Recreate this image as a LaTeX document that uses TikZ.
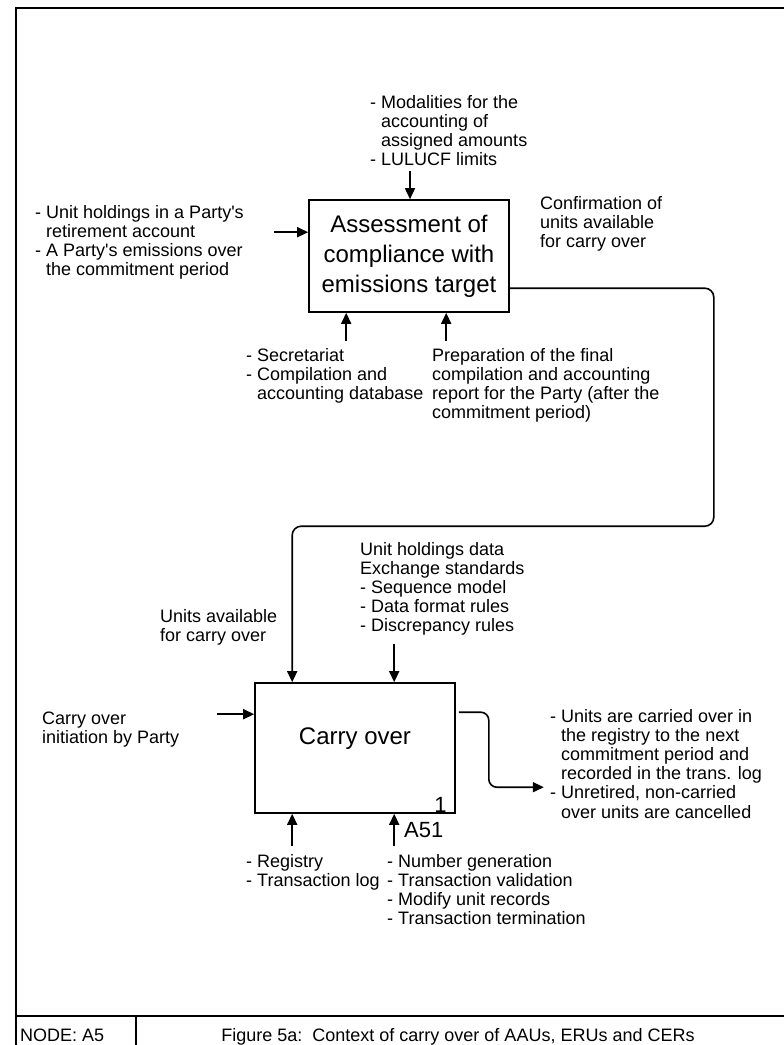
\documentclass[tikz,border=0pt]{standalone}
\usepackage{fontspec}
\setmainfont{Liberation Sans}
\usetikzlibrary{arrows.meta,calc}
\newcommand{\lns}[1]{\begin{tabular}[t]{@{}l@{}}#1\end{tabular}}
\newcommand{\ind}{\hphantom{-\ }}
\newcommand{\q}{\textquotesingle}
\begin{document}
\begin{tikzpicture}[x=1pt,y=-1pt,
  box/.style={draw,line width=1.6pt,minimum width=200pt,inner sep=0pt,align=center,
    font=\fontsize{24}{30}\selectfont},
  lbl/.style={anchor=base west,inner sep=0pt,font=\fontsize{18}{19.2}\selectfont},
  arr/.style={line width=1.6pt,-{Triangle[length=11pt,width=10pt]}},
  frameline/.style={line width=2.4pt}]
\useasboundingbox (0,0) rectangle (784,1045);

% sheet frame and footer
\draw[frameline] (790,8) -- (16,8) -- (16,1050);
\draw[frameline] (16,1016) -- (790,1016);
\draw[frameline] (136,1016) -- (136,1050);
\node[anchor=base west,inner sep=0pt,font=\fontsize{18}{20}\selectfont] (node) at (20,1041) {NODE: A5};
\node[anchor=base,inner sep=0pt,font=\fontsize{18}{20}\selectfont] (title) at (458,1041)
  {Figure 5a:\ \ Context of carry over of AAUs, ERUs and CERs};

% activity boxes
\node[box,minimum height=112pt] (A) at (409,256) {Assessment of\\compliance with\\emissions target};
\node[box,minimum height=130pt] (B) at (355,748) {};
\node[inner sep=0pt,font=\fontsize{24}{30}\selectfont] (Bt) at ([yshift=9pt]B.center) {Carry over};
\node[anchor=base east,inner sep=0pt,font=\fontsize{22}{24}\selectfont] (Bn) at ([xshift=-9pt,yshift=1pt]B.south east) {1};
\node[anchor=base west,inner sep=0pt,font=\fontsize{22}{24}\selectfont] (Bref) at (404,837) {A51};

% labels
\node[lbl] (mod) at (370,108) {\lns{- Modalities for the\\\ind accounting of\\\ind assigned amounts\\- LULUCF limits}};
\node[lbl] (hold) at (35,218) {\lns{- Unit holdings in a Party\q s\\\ind retirement account\\- A Party\q s emissions over\\\ind the commitment period}};
\node[lbl] (conf) at (540,209) {\lns{Confirmation of\\units available\\for carry over}};
\node[lbl] (sec) at (246,361) {\lns{- Secretariat\\- Compilation and\\\ind accounting database}};
\node[lbl] (prep) at (432,361) {\lns{Preparation of the final\\compilation and accounting\\report for the Party (after the\\commitment period)}};
\node[lbl] (uhd) at (360,555) {\lns{Unit holdings data\\Exchange standards\\- Sequence model\\- Data format rules\\- Discrepancy rules}};
\node[lbl] (uav) at (160,622) {\lns{Units available\\for carry over}};
\node[lbl] (init) at (42,724) {\lns{Carry over\\initiation by Party}};
\node[lbl] (res) at (550,722) {\lns{- Units are carried over in\\\ind the registry to the next\\\ind commitment period and\\\ind recorded in the trans. log\\- Unretired, non-carried\\\ind over units are cancelled}};
\node[lbl] (reg) at (246,867) {\lns{- Registry\\- Transaction log}};
\node[lbl] (num) at (387,867) {\lns{- Number generation\\- Transaction validation\\- Modify unit records\\- Transaction termination}};

% arrows of box A
\draw[arr] ([xshift=1pt,yshift=28pt]A.north) -- ([xshift=1pt]A.north);
\draw[arr] ([xshift=-34pt,yshift=-33pt]A.north west) -- ([yshift=-33pt]A.north west);
\draw[arr] ([xshift=38pt,yshift=-28pt]A.south west) -- ([xshift=38pt]A.south west);
\draw[arr] ([xshift=138pt,yshift=-28pt]A.south west) -- ([xshift=138pt]A.south west);
\draw[arr,rounded corners=9pt] ([yshift=-89pt]A.north east) -- ++(204,0) -- ++(0,238)
  -| ([xshift=38pt]B.north west);

% arrows of box B
\draw[arr] ([xshift=140pt,yshift=38pt]B.north west) -- ([xshift=140pt]B.north west);
\draw[arr] ([xshift=-37pt,yshift=-32pt]B.north west) -- ([yshift=-32pt]B.north west);
\draw[arr] ([xshift=38pt,yshift=-32pt]B.south west) -- ([xshift=38pt]B.south west);
\draw[arr] ([xshift=140pt,yshift=-32pt]B.south west) -- ([xshift=140pt]B.south west);
\draw[arr,rounded corners=8pt] ([xshift=3pt,yshift=-30pt]B.north east) -- ++(30,0) |- ++(55,75);
\end{tikzpicture}
\end{document}
